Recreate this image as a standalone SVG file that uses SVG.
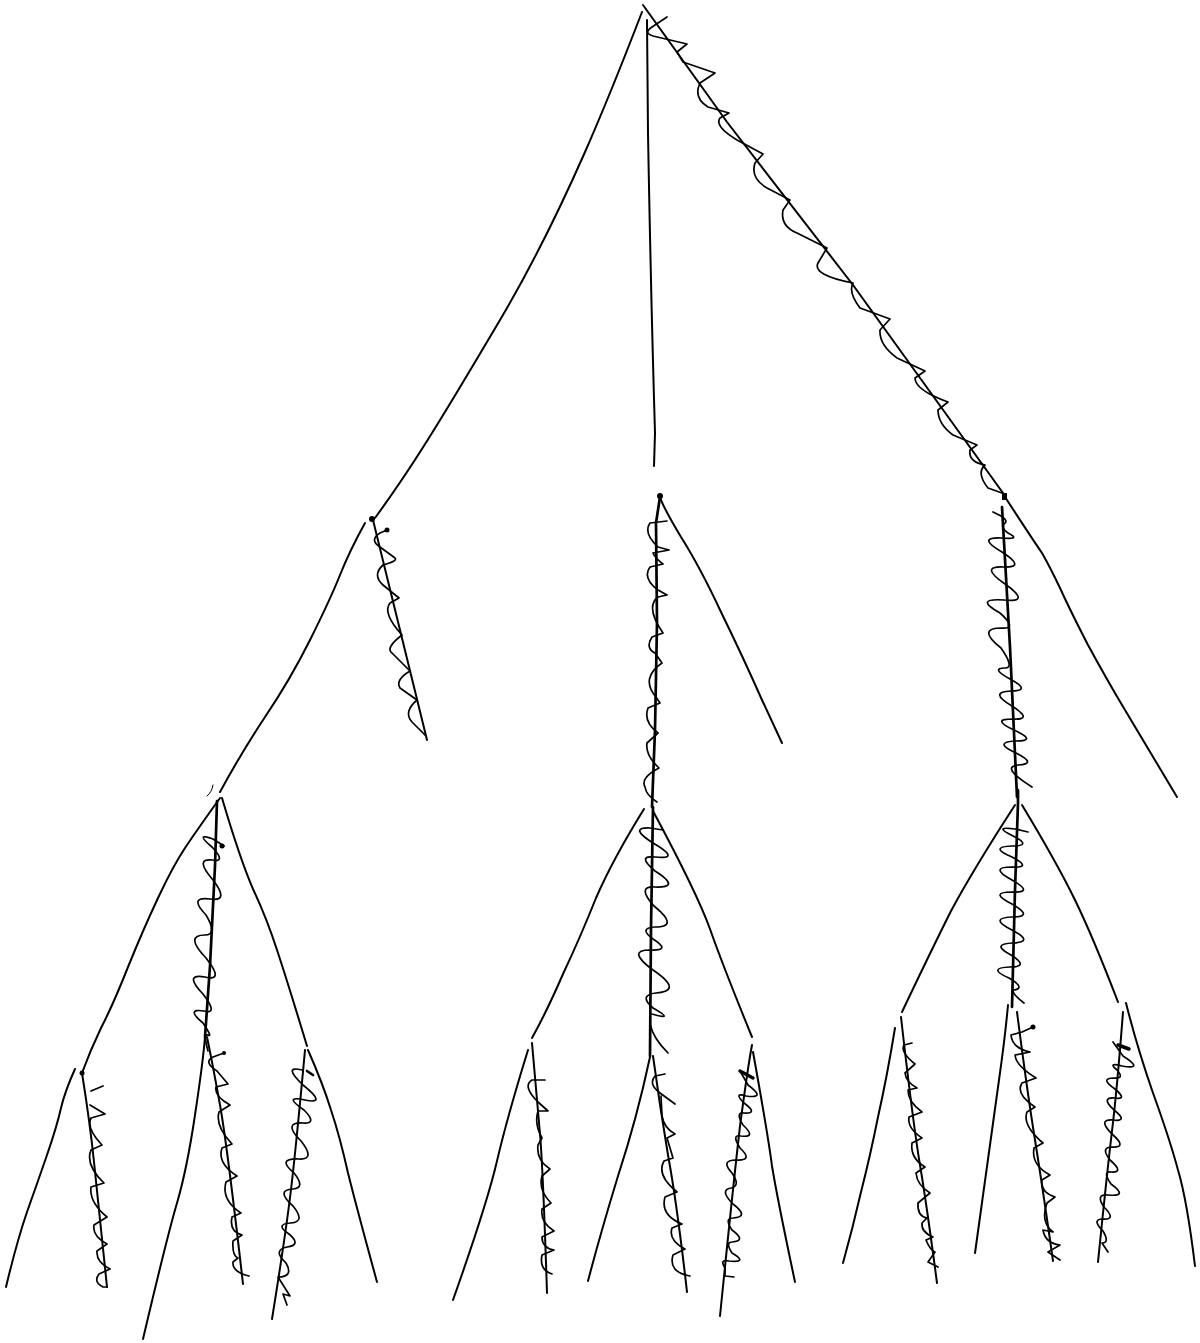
<svg xmlns="http://www.w3.org/2000/svg" width="1200" height="1343" viewBox="0 0 1200 1343">
<style>
.l{fill:none;stroke:#000;stroke-width:2;stroke-linecap:round;stroke-linejoin:round}
.w{fill:none;stroke:#000;stroke-width:1.7;stroke-linecap:round;stroke-linejoin:round}
.t{fill:none;stroke:#000;stroke-width:2.7;stroke-linecap:round;stroke-linejoin:round}
.d{fill:#000}
</style>
<rect width="1200" height="1343" fill="#fff"/>
<g id="root">
<path class="l" d="M642 12C612 90 565 210 500 320S410 470 375 518"/>
<path class="l" d="M647 20L648 133Q651 300 655 433L654 466"/>
<path class="l" d="M643 5L727 122L853 285L1003 493"/>
<path class="w" d="M667 17L652 27Q643 33 653 36L670 40L687 44L677 52L683 62L715 73L700 83Q693 98 708 107L729 113L720 118Q714 126 737 140L763 154L755 163Q750 178 767 188L790 200L783 210Q780 226 797 233L827 248L818 263Q812 275 853 283Q848 292 860 308L890 319L880 330Q879 345 897 358L925 371L915 378Q915 390 948 402L938 410Q938 424 953 435L977 445L970 450Q968 462 985 465Q976 473 988 488L1002 493"/>
</g>
<g id="branch-left">
<circle class="d" cx="372" cy="519" r="3"/><circle class="d" cx="387" cy="530" r="2.5"/>
<path class="l" d="M373 520L427 740"/>
<path class="l" d="M365 523Q350 550 340 575Q330 600 310 640Q290 680 265 717Q240 755 220 792"/>
<path class="w" d="M387 530L380 533Q369 540 380 547L395 558Q398 561 383 565Q372 575 383 585L399 598L390 603Q382 613 402 635Q385 648 392 653L410 671Q395 680 400 688L417 700Q403 712 412 722L425 735"/>
</g>
<g id="branch-center">
<circle class="d" cx="660" cy="496" r="3"/>
<path class="t" d="M660 497L656 523L657 623L655 730L652 807"/>
<path class="l" d="M660 497Q663 507 681 537Q700 567 721 612Q743 657 762 700L782 743"/>
<path class="w" d="M667 521L650 523Q643 533 658 547L669 550L653 553Q655 558 663 564L650 567Q642 578 658 590L667 595L658 597Q645 607 663 633L652 637Q645 648 655 653L662 663Q640 678 656 697L660 703L648 708Q643 722 658 733L647 743Q645 755 659 768Q640 778 645 787Q646 795 657 802"/>
</g>
<g id="branch-right">
<rect class="d" x="1002" y="493" width="5" height="7"/>
<path class="t" d="M1002 507L1010 647L1017 797"/>
<path class="l" d="M1005 497Q1033 540 1042 553Q1050 567 1060 588Q1070 610 1088 645Q1107 680 1125 710Q1143 740 1177 797"/>
<path class="w" d="M993 512L1001 516Q1009 521 1004 524Q1000 527 1008 533Q1022 540 1001 538Q976 537 1002 552Q1027 568 1003 567Q979 566 1005 584Q1032 603 1004 600Q973 598 1000 613Q1018 629 1002 628Q976 628 1001 648Q1015 668 1005 668Q990 668 1010 679Q1032 691 1011 691Q988 692 1012 706Q1034 720 1013 719Q990 719 1014 730Q1038 741 1016 741Q992 742 1016 753Q1038 764 1018 765Q1000 767 1032 787"/>
</g>
<g id="group-a">
<path class="l" d="M220 798Q197 830 185 848Q173 866 158 898Q143 930 128 967Q113 1005 101 1028Q90 1051 82 1073"/>
<path class="l" d="M75 1069Q65 1091 61 1108Q57 1126 47 1155Q37 1184 27 1212Q17 1241 6 1287"/>
<path class="l" d="M82 1073Q90 1123 94 1162Q98 1201 107 1287"/>
<path class="w" d="M103 1086L91 1091M90 1105L105 1114L91 1118Q86 1128 102 1145L91 1150Q85 1165 104 1183L91 1187Q89 1202 107 1217L94 1225Q92 1236 107 1244L97 1251Q96 1262 110 1269L99 1274Q93 1282 103 1287L107 1287"/>
<path class="t" d="M217 801L215 866L210 966L205 1037"/>
<path class="w" d="M224 846L213 839Q194 832 212 847Q227 863 212 860Q194 858 213 880Q230 902 210 899Q188 896 206 915Q218 935 205 935Q184 935 206 958Q225 982 205 977Q183 973 203 994Q219 1015 204 1011Q185 1008 203 1023Q213 1038 208 1035Q203 1033 208 1051"/>
<path class="l" d="M205 1037Q203 1062 195 1115Q187 1169 177 1203Q167 1237 143 1339"/>
<path class="l" d="M207 1037Q213 1066 220 1105Q227 1144 243 1284"/>
<path class="w" d="M224 1053L213 1057Q203 1062 217 1071L228 1084L216 1087Q214 1096 230 1105L219 1112Q215 1126 232 1144L222 1148Q217 1163 237 1176L226 1182Q221 1200 241 1213L232 1217Q229 1232 242 1235L233 1241Q232 1256 238 1258L233 1262Q232 1272 249 1276"/>
<path class="l" d="M222 798Q240 859 253 889Q267 919 277 950Q287 980 307 1046"/>
<path class="l" d="M308 1050Q323 1084 331 1110Q340 1137 348 1173Q357 1209 377 1282"/>
<path class="l" d="M305 1050Q297 1137 292 1181Q287 1226 272 1319"/>
<path class="w" d="M302 1070Q282 1065 303 1085Q328 1105 305 1100Q282 1095 304 1110Q318 1124 303 1123Q282 1122 301 1141Q316 1160 299 1159Q276 1158 294 1173Q306 1188 293 1189Q275 1190 293 1206Q306 1222 291 1223Q274 1224 289 1234Q302 1245 287 1247Q272 1250 286 1263Q294 1277 278 1277L290 1296L283 1294L287 1305"/>
<path class="t" d="M307 1071L313 1075"/>
<circle class="d" cx="222" cy="846" r="2.5"/><circle class="d" cx="224" cy="1053" r="2"/><circle class="d" cx="82" cy="1073" r="2.5"/>
<path class="w" style="stroke-width:1" d="M213 785Q212 792 207 796"/>
</g>
<g id="group-b">
<path class="t" d="M653 807L651 928L650 1056"/>
<path class="w" d="M663 830L650 828Q628 827 653 843Q682 860 655 857Q636 855 655 871Q682 888 655 887Q636 886 654 906Q680 927 655 927Q638 928 653 939Q672 951 650 950Q626 950 653 970Q684 991 656 993Q638 995 653 1008Q676 1021 652 1014M650 1024Q653 1038 668 1053"/>
<path class="l" d="M644 809Q613 859 596 898Q580 938 563 974Q547 1011 532 1038"/>
<path class="l" d="M528 1050Q507 1118 497 1161Q487 1204 453 1300"/>
<path class="l" d="M532 1043Q537 1100 540 1134Q543 1169 547 1293"/>
<path class="w" d="M545 1080L532 1080Q522 1086 538 1102L548 1111L538 1111Q534 1124 542 1138L538 1145Q536 1160 550 1169L542 1176Q538 1190 551 1203L542 1209Q540 1222 554 1231L542 1237Q542 1248 554 1250L542 1255Q539 1270 552 1274"/>
<path class="l" d="M653 811Q697 893 710 929Q723 966 752 1037"/>
<path class="l" d="M650 1057Q637 1118 618 1176Q600 1235 588 1281"/>
<path class="l" d="M653 1056Q660 1107 668 1155Q677 1204 687 1292"/>
<path class="w" d="M665 1074L655 1076Q648 1084 660 1093L675 1104M661 1096L662 1116Q664 1128 675 1134L667 1138L673 1158L664 1161Q656 1175 677 1192L665 1197Q660 1215 682 1224L672 1228Q668 1240 685 1249L673 1255Q668 1272 690 1276"/>
<path class="l" d="M752 1045Q748 1066 740 1126Q733 1187 720 1316"/>
<path class="l" d="M753 1052Q768 1135 772 1166Q777 1197 795 1282"/>
<path class="w" d="M740 1071L748 1085Q767 1099 746 1096Q733 1092 744 1103Q759 1114 744 1113Q735 1112 743 1125Q757 1138 741 1136Q731 1134 740 1148Q754 1161 736 1160Q720 1160 732 1173Q741 1186 731 1188Q719 1190 733 1204Q750 1217 733 1218Q724 1218 732 1230Q747 1241 732 1242Q725 1242 732 1253Q749 1263 729 1261Q719 1259 725 1268L725 1276L734 1277"/>
<path class="t" style="stroke-width:3.5" d="M740 1071L753 1078"/>
</g>
<g id="group-c">
<path class="t" d="M1018 790L1018 803L1015 890L1012 1007"/>
<path class="w" d="M1028 832L1015 829Q992 826 1013 836Q1033 846 1012 846Q988 847 1012 857Q1033 868 1012 867Q988 867 1012 880Q1035 893 1012 892Q988 892 1012 904Q1035 917 1012 917Q988 918 1012 930Q1035 942 1013 943Q990 944 1011 955Q1030 967 1010 967Q986 968 1009 978Q1026 988 1014 990Q1010 992 1024 1003"/>
<path class="l" d="M1015 805Q973 870 951 911Q930 953 902 1012"/>
<path class="l" d="M895 1028Q887 1077 878 1117Q870 1157 861 1192Q853 1227 843 1263"/>
<path class="l" d="M901 1017Q913 1123 920 1165Q927 1207 937 1283"/>
<path class="w" d="M912 1043L904 1045Q900 1052 915 1064L905 1073Q906 1082 917 1088L908 1090Q908 1102 922 1112L909 1117Q907 1128 922 1138L912 1143Q910 1158 925 1167L916 1173Q917 1185 930 1193L918 1203Q917 1216 927 1218L922 1223Q921 1232 933 1237L926 1240Q930 1250 935 1252L928 1262L938 1267"/>
<path class="l" d="M1008 1005Q1005 1038 999 1080Q993 1123 975 1253"/>
<path class="l" d="M1017 1012Q1027 1090 1035 1140Q1043 1190 1053 1261"/>
<path class="w" d="M1033 1027L1022 1032L1011 1035Q1012 1048 1030 1052L1015 1055Q1016 1066 1036 1078L1022 1083Q1015 1094 1035 1107L1027 1112Q1022 1125 1043 1143L1034 1148Q1031 1165 1050 1175L1042 1180Q1040 1192 1055 1197L1047 1203Q1040 1222 1053 1232L1043 1230Q1045 1243 1060 1245L1048 1252L1060 1260"/>
<path class="l" d="M1022 805Q1057 863 1075 900Q1093 937 1118 1002"/>
<path class="l" d="M1123 1012Q1117 1090 1112 1131Q1107 1173 1098 1262"/>
<path class="l" d="M1126 1003Q1137 1047 1153 1093Q1170 1140 1178 1170Q1187 1200 1195 1266"/>
<path class="w" d="M1113 1042L1123 1056Q1145 1070 1122 1066Q1107 1062 1117 1070Q1125 1079 1114 1078Q1099 1078 1115 1089Q1128 1100 1115 1098Q1100 1097 1114 1110Q1129 1122 1113 1120Q1097 1119 1112 1134Q1128 1148 1112 1147Q1100 1147 1110 1160Q1125 1173 1111 1172Q1102 1171 1111 1184Q1129 1197 1108 1195Q1095 1194 1104 1207Q1117 1220 1103 1219Q1091 1219 1103 1231Q1110 1243 1102 1243L1108 1252"/>
<path class="t" style="stroke-width:3.5" d="M1118 1045L1129 1049"/>
<circle class="d" cx="1033" cy="1027" r="2.5"/>
</g>
</svg>
